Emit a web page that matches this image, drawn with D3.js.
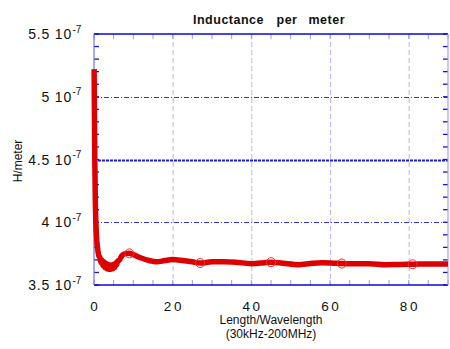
<!DOCTYPE html>
<html>
<head>
<meta charset="utf-8">
<script src="https://cdn.jsdelivr.net/npm/d3@7"></script>
<style>
  html, body { margin: 0; padding: 0; background: #fff; }
  svg { display: block; font-family: "Liberation Sans", Arial, Helvetica, sans-serif; }
</style>
</head>
<body>
<svg id="chart" width="450" height="349"></svg>
<script>
// Inductance per meter versus electrical length (units of 1e-7 H/m)
const lengthValues = [0.03, 0.1, 0.2, 0.35, 0.5, 0.7, 1.0, 1.25, 1.5, 1.75, 2.0, 2.25, 2.5, 2.75, 3.0, 3.25, 3.5, 3.75, 4.0, 4.25, 4.5, 4.75, 5.0, 5.25, 5.5, 5.75, 6.0, 6.5, 7.0, 7.5, 8.0, 9.0, 10.0, 12.0, 14.0, 16.0, 18.0, 20.0, 22.0, 25.0, 27.0, 30.0, 33.0, 36.0, 40.0, 43.0, 45.0, 48.0, 52.0, 55.0, 58.0, 61.0, 63.0, 64.0, 70.0, 74.0, 78.0, 81.0, 86.0, 90.0];
const inductanceValues = [5.22, 4.90, 4.50, 4.15, 3.98, 3.86, 3.77, 3.73, 3.72, 3.68, 3.70, 3.655, 3.685, 3.64, 3.675, 3.63, 3.665, 3.625, 3.66, 3.625, 3.66, 3.63, 3.665, 3.64, 3.675, 3.66, 3.69, 3.70, 3.73, 3.745, 3.75, 3.752, 3.742, 3.715, 3.695, 3.685, 3.695, 3.703, 3.697, 3.685, 3.675, 3.685, 3.686, 3.682, 3.670, 3.676, 3.682, 3.674, 3.662, 3.672, 3.678, 3.674, 3.671, 3.670, 3.670, 3.662, 3.664, 3.665, 3.668, 3.667];
// Lengths carrying a circle marker
const markerLengths = [9, 27, 45, 63, 81];

const xTickValues = [0, 20, 40, 60, 80];
const xMinorTicks = d3.range(0, 91, 5);
const yTickValues = [3.5, 4.0, 4.5, 5.0, 5.5];
const yTickLabels = ["3.5 10", "4 10", "4.5 10", "5 10", "5.5 10"];
const yTickExponent = "-7";
const yMinorTicks = d3.range(35, 56).map(v => v / 10);
const yGridValues = [4.0, 4.5, 5.0];

const titleWords = ["Inductance", "per", "meter"];
const yAxisTitle = "H/meter";
const xAxisTitle = ["Length/Wavelength", "(30kHz-200MHz)"];

const svg = d3.select("#chart");
const plot = { left: 94, right: 448, top: 34, bottom: 285 };

const x = d3.scaleLinear().domain([0, 90]).range([plot.left, plot.right]);
const y = d3.scaleLinear().domain([3.5, 5.5]).range([plot.bottom, plot.top]);

const data = lengthValues.map((v, i) => ({ x: v, y: inductanceValues[i] }));

// vertical grid
svg.append("g").selectAll("line")
  .data(xTickValues.filter(v => v > 0))
  .join("line")
  .attr("x1", d => x(d) + 0.5).attr("x2", d => x(d) + 0.5)
  .attr("y1", plot.top).attr("y2", plot.bottom)
  .attr("stroke", "#b4b4ff").attr("stroke-width", 1)
  .attr("stroke-dasharray", "5,3");

// horizontal grid
svg.append("g").selectAll("line")
  .data(yGridValues)
  .join("line")
  .attr("x1", plot.left).attr("x2", plot.right)
  .attr("y1", d => Math.round(y(d)) + 0.5).attr("y2", d => Math.round(y(d)) + 0.5)
  .attr("stroke", d => d === 4.5 ? "#1c1cd8" : "#3434d4")
  .attr("stroke-width", d => d === 4.5 ? 2 : 1)
  .attr("stroke-dasharray", d => d === 4.5 ? "3,1" : "5,2,1,2");

// minor ticks on left and right edges
const yTickG = svg.append("g");
yTickG.selectAll("line.l").data(yMinorTicks).join("line").attr("class", "l")
  .attr("x1", plot.left).attr("x2", plot.left + 5)
  .attr("y1", d => y(d)).attr("y2", d => y(d))
  .attr("stroke", "#1414d0").attr("stroke-width", 1.3);
yTickG.selectAll("line.r").data(yMinorTicks).join("line").attr("class", "r")
  .attr("x1", plot.right - 5).attr("x2", plot.right)
  .attr("y1", d => y(d)).attr("y2", d => y(d))
  .attr("stroke", "#1414d0").attr("stroke-width", 1.3);

// minor ticks on top and bottom edges
const xTickG = svg.append("g");
xTickG.selectAll("line.t").data(xMinorTicks).join("line").attr("class", "t")
  .attr("x1", d => x(d)).attr("x2", d => x(d))
  .attr("y1", plot.top).attr("y2", plot.top + 5)
  .attr("stroke", "#9a9af0").attr("stroke-width", 1);
xTickG.selectAll("line.b").data(xMinorTicks).join("line").attr("class", "b")
  .attr("x1", d => x(d)).attr("x2", d => x(d))
  .attr("y1", plot.bottom - 5).attr("y2", plot.bottom)
  .attr("stroke", "#9a9af0").attr("stroke-width", 1);

// frame
svg.append("line").attr("x1", plot.left).attr("x2", plot.right).attr("y1", plot.top).attr("y2", plot.top)
  .attr("stroke", "#0a0ad2").attr("stroke-width", 1.6);
svg.append("line").attr("x1", plot.left).attr("x2", plot.right).attr("y1", plot.bottom).attr("y2", plot.bottom)
  .attr("stroke", "#0a0ad2").attr("stroke-width", 1.6);
svg.append("line").attr("x1", plot.left).attr("x2", plot.left).attr("y1", plot.top).attr("y2", plot.bottom)
  .attr("stroke", "#7070f0").attr("stroke-width", 1.2);
svg.append("line").attr("x1", plot.right).attr("x2", plot.right).attr("y1", plot.top).attr("y2", plot.bottom)
  .attr("stroke", "#a0a0f8").attr("stroke-width", 1.2);

// data curve
const line = d3.line().x(d => x(d.x)).y(d => y(d.y)).curve(d3.curveMonotoneX);
svg.append("path").datum(data)
  .attr("d", line)
  .attr("fill", "none")
  .attr("stroke", "#dc0000")
  .attr("stroke-width", 5.5)
  .attr("stroke-linejoin", "round");

// circle markers
svg.append("g").selectAll("circle")
  .data(data.filter(d => markerLengths.includes(d.x)))
  .join("circle")
  .attr("cx", d => x(d.x)).attr("cy", d => y(d.y)).attr("r", 4.5)
  .attr("fill", "none").attr("stroke", "#ee3030").attr("stroke-width", 1);

// y tick labels with exponent
svg.append("g").selectAll("text")
  .data(yTickValues)
  .join("text")
  .attr("x", 72).attr("y", d => y(d) + 5)
  .attr("text-anchor", "end")
  .attr("font-size", 14).attr("letter-spacing", 0.8).attr("fill", "#111")
  .text((d, i) => yTickLabels[i]);
svg.append("g").selectAll("text")
  .data(yTickValues)
  .join("text")
  .attr("x", 72.5).attr("y", d => y(d) - 1.5)
  .attr("font-size", 10).attr("fill", "#111")
  .text(yTickExponent);

// x tick labels
const xls = 2.6;
svg.append("g").selectAll("text")
  .data(xTickValues)
  .join("text")
  .attr("x", d => x(d) + xls / 2).attr("y", 311)
  .attr("text-anchor", "middle")
  .attr("font-size", 13.5).attr("letter-spacing", xls).attr("fill", "#111")
  .text(d => d);

// title
const titleX = [193, 276.5, 308.5];
svg.append("g").selectAll("text")
  .data(titleWords)
  .join("text")
  .attr("x", (d, i) => titleX[i]).attr("y", 24)
  .attr("font-size", 12.5).attr("font-weight", "bold").attr("letter-spacing", 0.5).attr("fill", "#111")
  .text(d => d);

// axis titles
svg.append("text")
  .attr("transform", "translate(21.5,161) rotate(-90)")
  .attr("text-anchor", "middle")
  .attr("font-size", 12).attr("fill", "#111")
  .text(yAxisTitle);
svg.append("g").selectAll("text")
  .data(xAxisTitle)
  .join("text")
  .attr("x", 271).attr("y", (d, i) => 324 + i * 13.5)
  .attr("text-anchor", "middle")
  .attr("font-size", 12).attr("fill", "#111")
  .text(d => d);
</script>
</body>
</html>
